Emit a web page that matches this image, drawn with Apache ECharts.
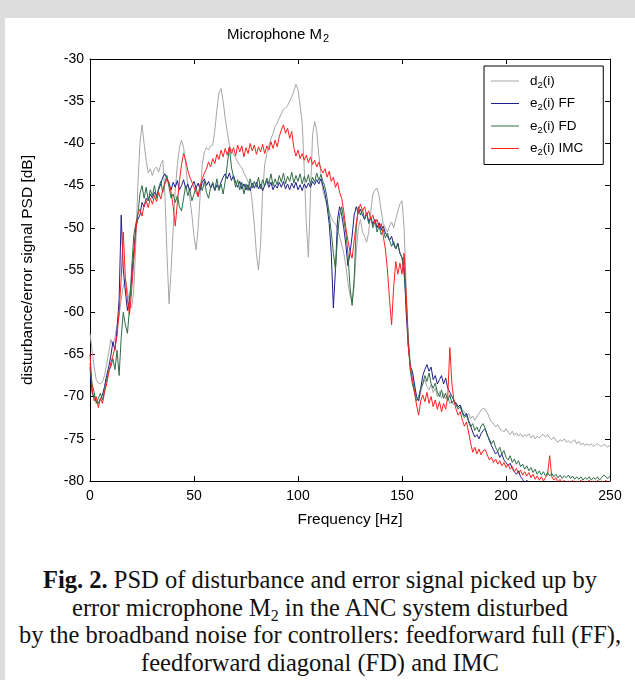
<!DOCTYPE html>
<html>
<head>
<meta charset="utf-8">
<script src="https://cdn.jsdelivr.net/npm/echarts@6/dist/echarts.min.js"></script>
<style>
html, body { margin: 0; padding: 0; background: #dcdcdc; }
#panel { position: absolute; left: 5px; top: 18px; width: 630px; height: 662px; background: #fff; }
#main { position: absolute; left: 0; top: 0; width: 635px; height: 560px; }
#caption { position: absolute; left: 5px; top: 566px; width: 630px; text-align: center;
  font-family: 'Liberation Serif', 'Times New Roman', serif; font-size: 24.5px; line-height: 27.5px; color: #111; }
#caption sub { font-size: 16px; line-height: 0; vertical-align: -5px; }
</style>
</head>
<body>
<div id="panel"></div>
<div id="main"></div>
<div id="caption">
  <b>Fig. 2.</b> PSD of disturbance and error signal picked up by<br>
  error microphone M<sub>2</sub> in the ANC system disturbed<br>
  by the broadband noise for controllers: feedforward full (FF),<br>
  feedforward diagonal (FD) and IMC
</div>
<script>
// frequency grid: 0..250 Hz, 1 Hz step
var fStep = 1;

// d2(i) - disturbance
var d2 = [
  -62.5,-64.5,-66.5,-68,-68.4,-68.5,-68.2,-67.5,-66.2,-64.8,
  -63.2,-64,-63,-61.5,-60.5,-58.5,-57,-56,-57.5,-59,
  -59.5,-57.5,-52,-45,-40,-37.8,-40,-42,-43.5,-43,
  -43.8,-43,-42.8,-43.4,-42.5,-42,-46,-53,-59,-55,
  -50,-45.5,-42.5,-40.5,-39.6,-40.5,-42.5,-45,-46.5,-48.5,
  -51,-52.6,-50,-46,-42.5,-41,-40.5,-40.8,-40.3,-40.2,
  -38.5,-36,-34,-33.5,-35,-37,-38.6,-40.2,-40.8,-41.3,
  -41.7,-42.2,-42.6,-42.9,-43.5,-44,-44.5,-45,-47,-49.6,
  -53,-55,-52,-45.7,-42.5,-41.2,-40.2,-39.5,-38.8,-38,
  -37.6,-37,-36.5,-36,-35.8,-35.5,-35,-34.5,-33.8,-33,
  -33.6,-35.5,-37.5,-43,-49.5,-53.5,-46,-39,-37.4,-38.5,
  -41.4,-43.5,-45.7,-46.5,-47.2,-48,-48.8,-49.3,-49.5,-50.2,
  -51,-52,-53,-54.5,-56.5,-58,-58.8,-57,-53,-50,
  -49,-50.5,-51,-51.7,-50.5,-48,-46,-45.5,-45.3,-46.2,
  -48,-49.5,-50,-50.5,-49.8,-49.3,-50,-49,-48,-47.2,
  -46.8,-50,-57,-63,-66,-67.8,-69,-70,-70.5,-69.5,
  -68.5,-68,-68.8,-69.2,-68.6,-69.5,-69,-70,-69.4,-70.2,
  -69.6,-70.3,-70,-70.8,-70.5,-71,-70.7,-71.3,-71,-71.6,
  -71.8,-72.3,-72,-72.6,-72.3,-72.8,-72.4,-72,-71.6,-71.4,
  -71.5,-71.9,-72.5,-73,-73.2,-73.6,-73.3,-73.8,-74,-74.2,
  -73.8,-74.2,-74.5,-74.1,-74.6,-74.3,-74.7,-74.4,-74.8,-74.5,
  -74.7,-74.4,-74.9,-74.6,-75,-74.7,-74.9,-74.6,-74.5,-74.8,
  -74.5,-74.9,-75.1,-74.8,-75.2,-75.4,-75.1,-75.3,-75,-75.4,
  -75.2,-75.5,-75.3,-75.1,-75.6,-75.3,-75.7,-75.5,-75.8,-75.6,
  -75.8,-75.6,-75.9,-75.7,-75.6,-75.8,-75.9,-75.7,-75.8,-76,
  -75.7
];

// e2(i) FF - feedforward full
var eFF = [
  -66.5,-69.5,-70.2,-70.5,-70.8,-70.3,-69.8,-68.8,-67.5,-66.5,
  -65.2,-63.5,-64.5,-62,-58.5,-48.5,-55,-57.5,-59.8,-58.5,
  -56,-53,-50,-49,-48.5,-47,-47.5,-46.5,-46.8,-46,
  -46.5,-45.8,-46.2,-45.5,-44.8,-44,-43.6,-44.2,-44.8,-45.5,
  -44.6,-45.2,-44.4,-45.5,-45,-44.3,-45.4,-44.8,-45.6,-45,
  -44.5,-45.3,-44.7,-45.5,-44.6,-44.2,-45,-44.5,-45.3,-44.8,
  -45.6,-44.9,-45.4,-44.6,-44,-43.6,-44.2,-43.5,-44.4,-43.8,
  -44.6,-45.2,-44.5,-45.4,-44.8,-45.5,-44.9,-45.6,-44.7,-45.3,
  -44.6,-45.4,-44.8,-45.6,-45,-44.4,-45.2,-44.6,-45.5,-44.9,
  -45.3,-44.6,-45.2,-44.5,-45.4,-44.8,-45.5,-44.7,-45.3,-44.6,
  -45.5,-44.9,-45.6,-44.8,-45.3,-44.7,-45.2,-44.5,-44.9,-44.3,
  -44.8,-44.2,-45,-46,-47.5,-49.5,-53,-59.5,-55,-49,
  -47.5,-48.5,-50,-52,-54.5,-53,-51,-48.5,-47.5,-48.3,
  -47.8,-48.5,-49,-48.2,-49.3,-48.8,-49.6,-49,-50,-49.4,
  -50.3,-49.8,-50.6,-51,-51.5,-51,-52,-52.5,-51.8,-53,
  -53.5,-54.5,-60,-64,-66.5,-67,-68.5,-70,-70.5,-69,
  -67.5,-66.8,-66.2,-67,-66.5,-68,-67.5,-68.5,-68,-67.5,
  -68.5,-67.8,-69,-69.5,-70,-70.5,-70.8,-71.2,-71,-71.8,
  -72.3,-72,-72.8,-73.5,-74.2,-74.8,-74.5,-75,-74.4,-74,
  -73.8,-74.5,-75.2,-75.8,-76.3,-76.8,-76.5,-77.2,-76.8,-77.5,
  -77.8,-78.2,-77.9,-78.5,-78.9,-79.2,-78.8,-79.5,-79.8,-80.3,
  -79.9,-80.5,-80.2,-80.8,-80.5,-81,-80.7,-81.2,-80.9,-81.3,
  -81,-81.4,-81.1,-81.5,-81.2,-81.6,-81.3,-81.7,-81.4,-81.8,
  -81.5,-81.8,-81.6,-81.9,-81.7,-82,-81.8,-82,-81.9,-82.1,
  -82,-82.1,-81.9,-82.2,-82,-82.1,-81.9,-82.2,-82,-82.1,
  -82
];

// e2(i) FD - feedforward diagonal
var eFD = [
  -66,-68.5,-69.5,-70.8,-70.2,-69.6,-70.4,-69.2,-68,-67,
  -66.5,-65.5,-66.8,-64.5,-67.5,-63,-60,-61.5,-62.5,-59.5,
  -55,-51,-49.5,-48.5,-46,-45,-46.5,-45.2,-46.8,-45.5,
  -46.2,-45,-46.5,-45.3,-44.5,-45.8,-44.6,-43.8,-45.2,-46.5,
  -46,-47,-46.2,-47.5,-48,-46.5,-45,-46.2,-45.5,-46.8,
  -46,-45.2,-46.3,-44.8,-45.6,-44.5,-45.8,-46.5,-45.2,-44.6,
  -45.5,-44.2,-45.6,-44.8,-46,-44.5,-42.5,-40.5,-42.8,-44,
  -45.2,-44.3,-45.5,-44.6,-46,-44.8,-45.6,-44.2,-45.3,-44.5,
  -45.2,-44,-45.4,-44.3,-45,-44.1,-44.8,-43.6,-45,-44.2,
  -44.9,-43.8,-44.6,-43.5,-44.8,-43.9,-44.5,-43.4,-44.7,-43.8,
  -44.5,-43.6,-44.8,-43.9,-44.6,-43.7,-44.9,-44,-44.6,-43.5,
  -44.4,-43.7,-44.5,-45.2,-46.5,-48.5,-50.5,-53,-55,-51,
  -48.5,-47.5,-49,-50.5,-53,-57,-59.2,-56,-50,-47.5,
  -48.5,-47.8,-49,-48.3,-49.5,-48.7,-50,-49.2,-50.5,-49.8,
  -50.8,-50.2,-51.2,-50.6,-51.5,-52.2,-51.6,-52.5,-52,-53,
  -53.6,-55.5,-58.5,-63,-67,-68.5,-69.5,-70.5,-70,-69,
  -68.5,-67.5,-68.2,-67.2,-68.5,-69,-68.4,-69.5,-70,-69.2,
  -70.2,-69.6,-70.5,-69.8,-70.8,-70.4,-71,-71.5,-71.2,-72,
  -72.5,-72.2,-73,-73.6,-73.2,-74,-73.6,-74.2,-73.5,-73.2,
  -73.8,-74.6,-75,-75.6,-75.2,-76,-76.5,-76,-76.8,-76.4,
  -77.2,-77.5,-77,-77.8,-77.4,-78,-77.6,-78.3,-78,-78.6,
  -78.2,-78.8,-78.4,-79,-78.6,-79.2,-78.8,-79.3,-78.9,-79.4,
  -79,-79.4,-79.1,-79.5,-79.2,-79.6,-79.3,-79.7,-79.4,-79.6,
  -79.3,-79.7,-79.4,-79.8,-79.5,-79.8,-79.5,-79.9,-79.6,-79.8,
  -79.5,-79.9,-79.6,-79.8,-79.5,-79.9,-79.6,-79.3,-79.5,-79.7,
  -79.4
];

// e2(i) IMC
var eIMC = [
  -65,-69,-70.5,-70,-71.3,-70.2,-70.8,-69.5,-68.5,-67.2,
  -66,-65.2,-64.2,-62.8,-60,-56,-50.5,-56,-58.5,-60.3,
  -57.5,-54,-50.5,-48.3,-47.8,-48.6,-47.4,-46.8,-47.6,-46.5,
  -47.2,-46.2,-46.9,-45.8,-46.6,-45.5,-44.8,-44.2,-44.6,-45.8,
  -47.5,-49.8,-47,-44.5,-42.5,-41.2,-42,-43.2,-44,-44.6,
  -45.2,-45.8,-46.3,-45,-44.2,-43.5,-43,-42.2,-42.8,-41.8,
  -42.4,-41.3,-41.9,-40.8,-41.6,-40.6,-41.4,-40.4,-41.2,-40.5,
  -41.5,-40.2,-41,-40.3,-41.6,-40.5,-41.2,-40,-40.9,-40.2,
  -41.3,-40.4,-41,-40.1,-41.2,-40.3,-40.8,-39.8,-40.6,-39.6,
  -40.4,-39.2,-38.4,-37.8,-38.8,-38.2,-39.4,-38.6,-40.5,-41.5,
  -40.8,-41.8,-41.2,-42,-41.4,-42.3,-41.6,-42.5,-42,-42.8,
  -42.2,-43,-43.5,-43,-44,-43.3,-44.5,-44,-45.2,-44.6,
  -45.8,-46.5,-48,-50,-51.5,-52.8,-53.6,-51.5,-49.5,-48,
  -47.2,-48,-47.5,-48.5,-48,-49,-48.5,-49.5,-49,-50,
  -49.5,-51,-52.5,-55,-58.5,-61.5,-57,-54,-55.5,-54.2,
  -55.5,-53,-58,-64,-66.5,-68,-69.5,-71,-72.2,-70.5,
  -69.8,-70.6,-69.5,-70.8,-70,-71.2,-70.4,-71.5,-70.6,-71.8,
  -70.8,-71.5,-70,-64.2,-68.5,-70.5,-71.5,-72.2,-71.8,-72.8,
  -73.5,-73,-74.2,-75.5,-76.6,-76,-76.8,-76.2,-76.9,-76.4,
  -76.3,-76.9,-77.5,-77.2,-77.8,-77.4,-78,-77.6,-78.2,-77.8,
  -78.4,-78,-78.6,-78.3,-78.9,-78.5,-79.1,-78.7,-79.3,-78.9,
  -79.4,-79,-79.6,-79.2,-79.8,-79.4,-79.9,-79.5,-80,-79.6,
  -79.2,-77,-79.5,-79.9,-79.6,-80.1,-79.8,-80.2,-79.9,-80.3,
  -80,-80.2,-79.9,-80.3,-80,-80.2,-79.9,-80.3,-80,-80.2,
  -79.9,-80.3,-80,-80.2,-79.9,-80.3,-80,-80.2,-79.9,-80.3,
  -80
];

var seriesNames = ['d2(i)', 'e2(i) FF', 'e2(i) FD', 'e2(i) IMC'];
var seriesData = [d2, eFF, eFD, eIMC];
var seriesColors = ['#a6a6a6', '#1f1f8c', '#2f6e47', '#ff2020'];

var xTicks = [0, 250, 50];     // min, max, step
var yTicks = [-80, -30, 5];

var font = 'Liberation Sans, Arial, sans-serif';

function toPairs(vals) {
  var out = [];
  for (var i = 0; i < vals.length; i++) {
    out.push([i * fStep, vals[i]]);
  }
  return out;
}

var chart = echarts.init(document.getElementById('main'));

var axisBase = {
  type: 'value',
  axisLine: { onZero: false, lineStyle: { color: '#000', width: 1 } },
  axisTick: { inside: true, length: 5, lineStyle: { color: '#000' } },
  splitLine: { show: false }
};

var series = [];
for (var k = 0; k < seriesNames.length; k++) {
  series.push({
    name: seriesNames[k],
    type: 'line',
    data: toPairs(seriesData[k]),
    symbol: 'none',
    clip: true,
    color: seriesColors[k],
    lineStyle: { width: 1, color: seriesColors[k] }
  });
}

var option = {
  animation: false,
  backgroundColor: 'transparent',
  title: {
    text: '{t|Microphone M}{s|2}',
    left: 222,
    top: 20,
    textStyle: {
      fontWeight: 'normal',
      rich: {
        t: { fontFamily: font, fontSize: 15, fontWeight: 'normal', color: '#000' },
        s: { fontFamily: font, fontSize: 11, fontWeight: 'normal', color: '#000', padding: [8, 0, 0, 1] }
      }
    }
  },
  legend: {
    orient: 'vertical',
    left: 484,
    top: 66,
    backgroundColor: '#fff',
    borderColor: '#000',
    borderWidth: 1,
    borderRadius: 0,
    padding: [8, 20, 7, 7],
    itemGap: 6.5,
    itemWidth: 28,
    itemHeight: 1,
    icon: 'rect',
    data: seriesNames,
    formatter: function (name) {
      var parts = name.split('2');
      return '{t|' + parts[0] + '}{s|2}{t|' + parts[1] + '}';
    },
    textStyle: {
      padding: [0, 0, 0, 6],
      rich: {
        t: { fontFamily: font, fontSize: 13.5, color: '#000' },
        s: { fontFamily: font, fontSize: 9.5, color: '#000', padding: [8, 0, 0, 0] }
      }
    }
  },
  grid: { left: 90, top: 59, width: 520, height: 422 },
  xAxis: [
    Object.assign({}, axisBase, {
      position: 'bottom', min: xTicks[0], max: xTicks[1], interval: xTicks[2],
      axisLabel: { fontFamily: font, fontSize: 14, color: '#000', margin: 8 },
      name: 'Frequency [Hz]', nameLocation: 'middle', nameGap: 31,
      nameTextStyle: { fontFamily: font, fontSize: 15.5, color: '#000' }
    }),
    Object.assign({}, axisBase, {
      position: 'top', min: xTicks[0], max: xTicks[1], interval: xTicks[2],
      axisLabel: { show: false }
    })
  ],
  yAxis: [
    Object.assign({}, axisBase, {
      position: 'left', min: yTicks[0], max: yTicks[1], interval: yTicks[2],
      axisLabel: { fontFamily: font, fontSize: 14, color: '#000', margin: 6 },
      name: 'disturbance/error signal PSD [dB]', nameLocation: 'middle', nameGap: 54,
      nameTextStyle: { fontFamily: font, fontSize: 15.5, color: '#000' }
    }),
    Object.assign({}, axisBase, {
      position: 'right', min: yTicks[0], max: yTicks[1], interval: yTicks[2],
      axisLabel: { show: false }
    })
  ],
  series: series
};

chart.setOption(option);
</script>
</body>
</html>
